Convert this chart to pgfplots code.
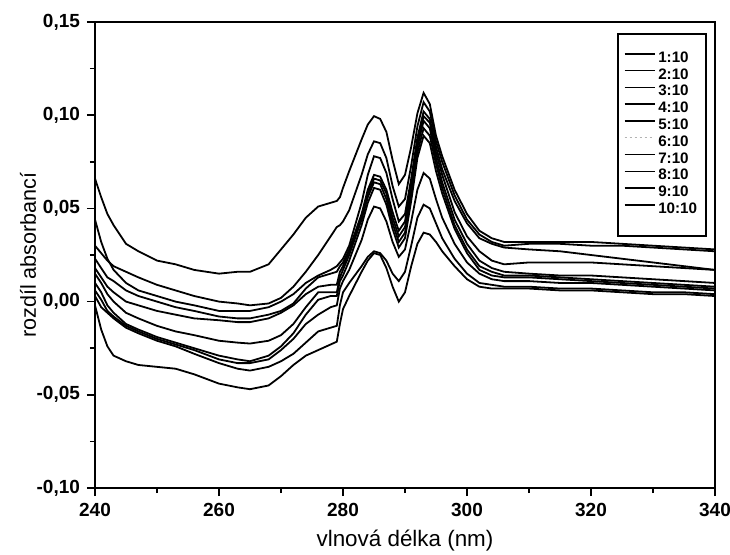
\documentclass[border=0pt]{standalone}
\usepackage{fontspec}
\setmainfont{Liberation Sans}
\usepackage{pgfplots}
\usepackage{pgfplotstable}
\pgfplotsset{compat=1.18}

% absorbance difference spectra, ratios 1:10 ... 10:10
\pgfplotstableread{
lam    c1      c2     c3     c4      c5     c6      c7     c8     c9     c10
240    0.066   0.030  0.044  0.023   0.018  0.015   0.010  0.006  0.003  -0.002
241    0.056   0.026  0.032  0.018   0.013  0.010   0.005  0.001  -0.003 -0.015
242    0.047   0.022  0.023  0.013   0.008  0.004  -0.002 -0.005  -0.006 -0.024
243    0.041   0.019  0.017  0.011   0.005  0.000  -0.006 -0.008  -0.009 -0.029
245    0.031   0.016  0.010  0.006   0.000 -0.006  -0.012 -0.013  -0.014 -0.032
247    0.027   0.013  0.006  0.003  -0.002 -0.009  -0.015 -0.016  -0.017 -0.034
250    0.022   0.009  0.003  0.000  -0.005 -0.013  -0.019 -0.020  -0.021 -0.035
253    0.020   0.006  0.000 -0.003  -0.007 -0.016  -0.022 -0.023  -0.024 -0.036
256    0.017   0.003 -0.002 -0.005  -0.009 -0.018  -0.025 -0.026  -0.028 -0.039
260    0.015   0.000 -0.005 -0.008  -0.010 -0.021  -0.029 -0.031  -0.033 -0.044
263    0.016  -0.001 -0.005 -0.009  -0.011 -0.022  -0.031 -0.033  -0.036 -0.046
265    0.016  -0.002 -0.005 -0.009  -0.011 -0.0225 -0.032 -0.033  -0.037 -0.047
268    0.020  -0.001 -0.003 -0.007  -0.009 -0.021  -0.029 -0.031  -0.035 -0.045
270    0.028   0.002  0.000 -0.005  -0.006 -0.018  -0.024 -0.026  -0.032 -0.040
272    0.036   0.008  0.004 -0.001  -0.002 -0.012  -0.017 -0.020  -0.028 -0.034
274    0.045   0.016  0.010  0.007   0.004 -0.003  -0.007 -0.012  -0.022 -0.029
276    0.051   0.025  0.014  0.013   0.008  0.005   0.001 -0.007  -0.016 -0.026
278    0.053   0.035  0.017  0.015   0.009  0.005   0.003 -0.003  -0.014 -0.023
279    0.054   0.040  0.019  0.016   0.009  0.005   0.003 -0.002  -0.013 -0.0215
279.5  0.056   0.041  0.021  0.019   0.016  0.013   0.011  0.007  -0.002 -0.012
280    0.061   0.043  0.023  0.021   0.019  0.017   0.014  0.011   0.005 -0.004
281    0.070   0.049  0.030  0.028   0.027  0.025   0.022  0.017   0.010  0.003
283    0.087   0.068  0.053  0.047   0.046  0.044   0.041  0.033   0.019  0.016
284    0.095   0.079  0.068  0.060   0.058  0.056   0.053  0.044   0.024  0.022
285    0.0995  0.086  0.078  0.068   0.066  0.064   0.061  0.051   0.027  0.026
286    0.098   0.085  0.077  0.067   0.065  0.063   0.060  0.050   0.026  0.025
287    0.091   0.077  0.069  0.060   0.058  0.055   0.052  0.043   0.022  0.018
288    0.076   0.062  0.055  0.048   0.045  0.042   0.039  0.032   0.015  0.008
289    0.063   0.051  0.043  0.038   0.035  0.032   0.029  0.024   0.011  0.000
290    0.068   0.055  0.047  0.043   0.040  0.037   0.034  0.028   0.016  0.005
291    0.083   0.073  0.066  0.063   0.060  0.057   0.054  0.043   0.030  0.019
292    0.101   0.094  0.088  0.086   0.083  0.080   0.077  0.060   0.045  0.031
293    0.112   0.107  0.102  0.0995  0.097  0.093   0.089  0.069   0.052  0.037
294    0.106   0.102  0.098  0.096   0.093  0.089   0.085  0.066   0.050  0.036
295    0.089   0.086  0.083  0.080   0.077  0.074   0.070  0.055   0.042  0.032
296    0.078   0.075  0.071  0.068   0.064  0.061   0.058  0.045   0.034  0.027
298    0.060   0.057  0.054  0.048   0.044  0.041   0.039  0.031   0.023  0.019
300    0.047   0.044  0.042  0.035   0.031  0.028   0.026  0.021   0.015  0.012
302    0.038   0.036  0.034  0.027   0.022  0.019   0.017  0.015   0.010  0.008
304    0.034   0.032  0.031  0.022   0.018  0.016   0.014  0.012   0.009  0.007
306    0.032   0.030  0.029  0.020   0.016  0.014   0.013  0.011   0.008  0.007
310    0.032   0.031  0.028  0.021   0.015  0.014   0.013  0.011   0.008  0.007
315    0.032   0.031  0.027  0.021   0.014  0.013   0.012  0.010   0.007  0.006
320    0.032   0.030  0.025  0.021   0.014  0.012   0.011  0.010   0.007  0.006
325    0.031   0.030  0.023  0.020   0.013  0.011   0.010  0.009   0.006  0.005
330    0.030   0.029  0.021  0.019   0.012  0.010   0.009  0.008   0.005  0.004
335    0.029   0.028  0.019  0.018   0.011  0.009   0.008  0.007   0.005  0.004
340    0.028   0.027  0.017  0.017   0.010  0.008   0.007  0.006   0.004  0.003
}\spectra

\begin{document}
\begin{tikzpicture}
\useasboundingbox (-47.5pt,-33pt) rectangle (317.5pt,244pt);
\begin{axis}[
    scale only axis,
    width=310pt, height=233pt,
    xmin=240, xmax=340,
    ymin=-0.1, ymax=0.15,
    xtick={240,260,...,340},
    minor xtick={250,270,...,330},
    ytick={-0.10,-0.05,0,0.05,0.10,0.15},
    minor ytick={-0.075,-0.025,0.025,0.075,0.125},
    tick pos=left,
    tick align=outside,
    major tick length=4pt,
    minor tick length=2.5pt,
    tick style={black, line width=0.8pt},
    axis line style={line width=1pt},
    /pgf/number format/assume math mode=true,
    tick label style={font=\bfseries\fontsize{9.5}{11}\selectfont},
    yticklabel style={/pgf/number format/.cd, fixed, fixed zerofill, precision=2, use comma},
    xticklabel style={/pgf/number format/1000 sep={}},
    xlabel={vlnová délka (nm)},
    ylabel={rozdíl absorbancí},
    every axis x label/.style={at={(axis description cs:0.5,-0.1137)}, anchor=center,
      font=\fontsize{11.2}{13}\selectfont},
    every axis y label/.style={at={(axis description cs:-0.108,0.5)}, anchor=center, rotate=90,
      font=\fontsize{10.8}{13}\selectfont},
    legend style={at={(0.842,0.9764)}, anchor=north west,
      draw=black, line width=0.75pt, fill=white, inner xsep=3pt, inner ysep=8.5pt,
      row sep=0pt,
      font=\bfseries\fontsize{7.6}{9}\selectfont,
      nodes={inner xsep=1.5pt, inner ysep=0pt, text height=5.8pt, text depth=2.6pt}},
    legend cell align=left,
    legend image code/.code={\draw[#1] (0pt,2.7pt) -- (15pt,2.7pt);},
  ]
  \foreach \c in {c1,c2,c3,c4,c5,c6,c7,c8,c9,c10} {
    \addplot[black, line width=0.9pt, forget plot] table[x=lam, y=\c] {\spectra};
  }
  \addlegendimage{black, line width=0.75pt}\addlegendentry{1:10}
  \addlegendimage{black, line width=0.75pt}\addlegendentry{2:10}
  \addlegendimage{black, line width=0.75pt}\addlegendentry{3:10}
  \addlegendimage{black, line width=0.75pt}\addlegendentry{4:10}
  \addlegendimage{black, line width=0.75pt}\addlegendentry{5:10}
  \addlegendimage{gray!60, line width=0.5pt, dash pattern=on 1pt off 1.5pt}\addlegendentry{6:10}
  \addlegendimage{black, line width=0.75pt}\addlegendentry{7:10}
  \addlegendimage{black, line width=0.75pt}\addlegendentry{8:10}
  \addlegendimage{black, line width=0.75pt}\addlegendentry{9:10}
  \addlegendimage{black, line width=0.75pt}\addlegendentry{10:10}
\end{axis}
\end{tikzpicture}
\end{document}
